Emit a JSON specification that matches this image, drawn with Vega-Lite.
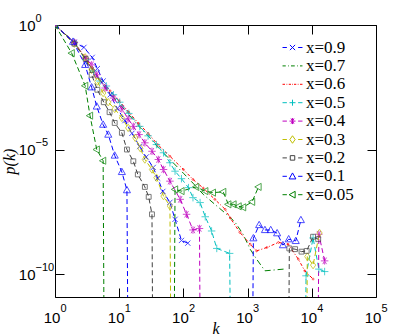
{
  "$schema": "https://vega.github.io/schema/vega-lite/v6.json",
  "width": 321,
  "height": 272,
  "autosize": {"type": "none"},
  "padding": {"left": 55, "top": 25, "right": 39, "bottom": 39},
  "background": "white",
  "config": {
    "view": {"stroke": "black", "strokeWidth": 1},
    "axis": {"grid": false, "domain": false, "tickColor": "black", "tickWidth": 1, "tickSize": 9, "zindex": 1, "labelColor": "black", "labelFont": "Liberation Sans", "labelFontSize": 15, "titleColor": "black"}
  },
  "data": {
    "values": [
      {"s": "x=0.9", "k": 1, "p": 1}, {"s": "x=0.9", "k": 2, "p": 0.2}, {"s": "x=0.9", "k": 2.82, "p": 0.126}, {"s": "x=0.9", "k": 3.8, "p": 0.0501}, {"s": "x=0.9", "k": 4.57, "p": 0.0178}, {"s": "x=0.9", "k": 5.62, "p": 5.62e-3}, {"s": "x=0.9", "k": 7.24, "p": 1.58e-3}, {"s": "x=0.9", "k": 9.33, "p": 4.47e-4}, {"s": "x=0.9", "k": 12.3, "p": 1.45e-4}, {"s": "x=0.9", "k": 15.8, "p": 4.47e-5}, {"s": "x=0.9", "k": 20.9, "p": 1.32e-5}, {"s": "x=0.9", "k": 26.3, "p": 5.01e-6}, {"s": "x=0.9", "k": 33.9, "p": 1.91e-6}, {"s": "x=0.9", "k": 39.8, "p": 7.08e-7}, {"s": "x=0.9", "k": 47.9, "p": 2.09e-7}, {"s": "x=0.9", "k": 61.7, "p": 7.59e-8}, {"s": "x=0.9", "k": 74.1, "p": 1.58e-8}, {"s": "x=0.9", "k": 93.3, "p": 2.24e-9}, {"s": "x=0.9", "k": 117, "p": 1.74e-9},

      {"s": "x=0.7", "k": 1, "p": 1}, {"s": "x=0.7", "k": 2, "p": 0.2}, {"s": "x=0.7", "k": 3.02, "p": 0.0398}, {"s": "x=0.7", "k": 3.98, "p": 0.0141}, {"s": "x=0.7", "k": 5.01, "p": 5.62e-3}, {"s": "x=0.7", "k": 7.24, "p": 1.78e-3}, {"s": "x=0.7", "k": 10, "p": 7.08e-4}, {"s": "x=0.7", "k": 14.1, "p": 2.51e-4}, {"s": "x=0.7", "k": 20, "p": 8.91e-5}, {"s": "x=0.7", "k": 28.2, "p": 3.55e-5}, {"s": "x=0.7", "k": 39.8, "p": 1.26e-5}, {"s": "x=0.7", "k": 61.7, "p": 3.98e-6}, {"s": "x=0.7", "k": 100, "p": 1.12e-6}, {"s": "x=0.7", "k": 141, "p": 4.47e-7}, {"s": "x=0.7", "k": 204, "p": 1.58e-7}, {"s": "x=0.7", "k": 309, "p": 6.31e-8}, {"s": "x=0.7", "k": 447, "p": 2.82e-8}, {"s": "x=0.7", "k": 631, "p": 1.26e-8}, {"s": "x=0.7", "k": 851, "p": 3.98e-9}, {"s": "x=0.7", "k": 1096, "p": 1e-9}, {"s": "x=0.7", "k": 1380, "p": 3.98e-10}, {"s": "x=0.7", "k": 1862, "p": 1.35e-10}, {"s": "x=0.7", "k": 3631, "p": 1.58e-10},

      {"s": "x=0.6", "k": 1, "p": 1}, {"s": "x=0.6", "k": 2, "p": 0.2}, {"s": "x=0.6", "k": 3.02, "p": 0.0447}, {"s": "x=0.6", "k": 3.98, "p": 0.0158}, {"s": "x=0.6", "k": 5.01, "p": 6.31e-3}, {"s": "x=0.6", "k": 7.24, "p": 2.24e-3}, {"s": "x=0.6", "k": 10, "p": 8.91e-4}, {"s": "x=0.6", "k": 14.1, "p": 3.16e-4}, {"s": "x=0.6", "k": 20, "p": 1.12e-4}, {"s": "x=0.6", "k": 28.2, "p": 4.47e-5}, {"s": "x=0.6", "k": 39.8, "p": 1.58e-5}, {"s": "x=0.6", "k": 61.7, "p": 5.37e-6}, {"s": "x=0.6", "k": 100, "p": 1.58e-6}, {"s": "x=0.6", "k": 141, "p": 6.31e-7}, {"s": "x=0.6", "k": 204, "p": 2.82e-7}, {"s": "x=0.6", "k": 309, "p": 1e-7}, {"s": "x=0.6", "k": 447, "p": 3.98e-8}, {"s": "x=0.6", "k": 537, "p": 1.78e-8}, {"s": "x=0.6", "k": 759, "p": 4.68e-9}, {"s": "x=0.6", "k": 1096, "p": 1.58e-9}, {"s": "x=0.6", "k": 1380, "p": 8.51e-10}, {"s": "x=0.6", "k": 1995, "p": 1.17e-9}, {"s": "x=0.6", "k": 3020, "p": 1.86e-9}, {"s": "x=0.6", "k": 4266, "p": 1.58e-9}, {"s": "x=0.6", "k": 6166, "p": 3.98e-10}, {"s": "x=0.6", "k": 7762, "p": 1.35e-10}, {"s": "x=0.6", "k": 10471, "p": 6.31e-11},

      {"s": "x=0.5", "k": 1, "p": 1}, {"s": "x=0.5", "k": 2, "p": 0.2}, {"s": "x=0.5", "k": 3.02, "p": 0.0398}, {"s": "x=0.5", "k": 3.98, "p": 0.0141}, {"s": "x=0.5", "k": 5.01, "p": 5.62e-3}, {"s": "x=0.5", "k": 6.31, "p": 3.55e-3}, {"s": "x=0.5", "k": 8.13, "p": 1.58e-3}, {"s": "x=0.5", "k": 10.2, "p": 7.94e-4}, {"s": "x=0.5", "k": 14.1, "p": 2.82e-4}, {"s": "x=0.5", "k": 20.9, "p": 8.51e-5}, {"s": "x=0.5", "k": 28.2, "p": 3.55e-5}, {"s": "x=0.5", "k": 38, "p": 1.58e-5}, {"s": "x=0.5", "k": 49, "p": 7.41e-6}, {"s": "x=0.5", "k": 61.7, "p": 2.95e-6}, {"s": "x=0.5", "k": 74.1, "p": 1.35e-6}, {"s": "x=0.5", "k": 93.3, "p": 6.76e-7}, {"s": "x=0.5", "k": 120, "p": 2.95e-7}, {"s": "x=0.5", "k": 141, "p": 1.17e-7}, {"s": "x=0.5", "k": 182, "p": 7.41e-8}, {"s": "x=0.5", "k": 219, "p": 2.0e-8}, {"s": "x=0.5", "k": 275, "p": 5.37e-9}, {"s": "x=0.5", "k": 331, "p": 1.07e-9}, {"s": "x=0.5", "k": 525, "p": 6.76e-10}, {"s": "x=0.5", "k": 631, "p": 1e-30}, {"s": "x=0.5", "k": 7079, "p": 1e-30}, {"s": "x=0.5", "k": 8128, "p": 8.51e-11}, {"s": "x=0.5", "k": 10471, "p": 2.82e-9}, {"s": "x=0.5", "k": 12882, "p": 1.58e-10}, {"s": "x=0.5", "k": 15849, "p": 1.26e-10},

      {"s": "x=0.4", "k": 1, "p": 1}, {"s": "x=0.4", "k": 2, "p": 0.2}, {"s": "x=0.4", "k": 3.02, "p": 0.0447}, {"s": "x=0.4", "k": 3.72, "p": 0.0251}, {"s": "x=0.4", "k": 4.47, "p": 0.01}, {"s": "x=0.4", "k": 6.03, "p": 2.95e-3}, {"s": "x=0.4", "k": 8.13, "p": 1.17e-3}, {"s": "x=0.4", "k": 11, "p": 4.27e-4}, {"s": "x=0.4", "k": 13.8, "p": 1.7e-4}, {"s": "x=0.4", "k": 16.6, "p": 8.51e-5}, {"s": "x=0.4", "k": 20.4, "p": 3.98e-5}, {"s": "x=0.4", "k": 25.1, "p": 1.86e-5}, {"s": "x=0.4", "k": 32.4, "p": 8.51e-6}, {"s": "x=0.4", "k": 40.7, "p": 3.98e-6}, {"s": "x=0.4", "k": 49, "p": 1.58e-6}, {"s": "x=0.4", "k": 61.7, "p": 5.37e-7}, {"s": "x=0.4", "k": 89.1, "p": 1e-7}, {"s": "x=0.4", "k": 112, "p": 2.51e-8}, {"s": "x=0.4", "k": 141, "p": 5.89e-9}, {"s": "x=0.4", "k": 178, "p": 6.76e-9}, {"s": "x=0.4", "k": 200, "p": 1e-30}, {"s": "x=0.4", "k": 11220, "p": 1e-30}, {"s": "x=0.4", "k": 12882, "p": 3.98e-9}, {"s": "x=0.4", "k": 15849, "p": 3.39e-10},

      {"s": "x=0.3", "k": 1, "p": 1}, {"s": "x=0.3", "k": 2, "p": 0.178}, {"s": "x=0.3", "k": 2.95, "p": 0.0501}, {"s": "x=0.3", "k": 3.72, "p": 0.0158}, {"s": "x=0.3", "k": 4.57, "p": 5.37e-3}, {"s": "x=0.3", "k": 5.62, "p": 1.86e-3}, {"s": "x=0.3", "k": 6.76, "p": 7.94e-4}, {"s": "x=0.3", "k": 8.51, "p": 4.27e-4}, {"s": "x=0.3", "k": 11, "p": 1.86e-4}, {"s": "x=0.3", "k": 13.8, "p": 7.41e-5}, {"s": "x=0.3", "k": 17.8, "p": 2.95e-5}, {"s": "x=0.3", "k": 21.4, "p": 1.12e-5}, {"s": "x=0.3", "k": 25.1, "p": 3.98e-6}, {"s": "x=0.3", "k": 32.4, "p": 1.58e-6}, {"s": "x=0.3", "k": 38, "p": 7.41e-7}, {"s": "x=0.3", "k": 49, "p": 1.35e-7}, {"s": "x=0.3", "k": 61.7, "p": 5.37e-8}, {"s": "x=0.3", "k": 70.8, "p": 1e-30}, {"s": "x=0.3", "k": 7586, "p": 1e-30}, {"s": "x=0.3", "k": 8511, "p": 5.01e-10}, {"s": "x=0.3", "k": 10471, "p": 2.29e-10}, {"s": "x=0.3", "k": 13183, "p": 4.47e-9},

      {"s": "x=0.2", "k": 1, "p": 1}, {"s": "x=0.2", "k": 2, "p": 0.178}, {"s": "x=0.2", "k": 3.02, "p": 0.0427}, {"s": "x=0.2", "k": 3.72, "p": 0.01}, {"s": "x=0.2", "k": 4.57, "p": 2.51e-3}, {"s": "x=0.2", "k": 5.75, "p": 7.94e-4}, {"s": "x=0.2", "k": 7.08, "p": 3.16e-4}, {"s": "x=0.2", "k": 8.51, "p": 1.17e-4}, {"s": "x=0.2", "k": 11, "p": 4.68e-5}, {"s": "x=0.2", "k": 13.2, "p": 1e-5}, {"s": "x=0.2", "k": 16.6, "p": 3.39e-6}, {"s": "x=0.2", "k": 19.5, "p": 1e-6}, {"s": "x=0.2", "k": 25.1, "p": 3.16e-7}, {"s": "x=0.2", "k": 28.8, "p": 1.26e-7}, {"s": "x=0.2", "k": 32.4, "p": 2.51e-8}, {"s": "x=0.2", "k": 36.3, "p": 1e-30}, {"s": "x=0.2", "k": 3981, "p": 1e-30}, {"s": "x=0.2", "k": 4467, "p": 1.07e-9}, {"s": "x=0.2", "k": 5495, "p": 1e-9}, {"s": "x=0.2", "k": 6918, "p": 7.94e-10}, {"s": "x=0.2", "k": 8318, "p": 8.51e-10}, {"s": "x=0.2", "k": 10471, "p": 3.16e-9}, {"s": "x=0.2", "k": 12589, "p": 2.51e-9},

      {"s": "x=0.1", "k": 1, "p": 1}, {"s": "x=0.1", "k": 1.91, "p": 0.214}, {"s": "x=0.1", "k": 2.95, "p": 0.0251}, {"s": "x=0.1", "k": 3.72, "p": 3.16e-3}, {"s": "x=0.1", "k": 4.47, "p": 5.37e-4}, {"s": "x=0.1", "k": 5.62, "p": 1e-4}, {"s": "x=0.1", "k": 6.76, "p": 3.98e-5}, {"s": "x=0.1", "k": 8.51, "p": 5.75e-6}, {"s": "x=0.1", "k": 11, "p": 1.26e-6}, {"s": "x=0.1", "k": 13.2, "p": 2.34e-7}, {"s": "x=0.1", "k": 15.1, "p": 1e-30}, {"s": "x=0.1", "k": 1072, "p": 1e-30}, {"s": "x=0.1", "k": 1230, "p": 2.75e-9}, {"s": "x=0.1", "k": 1514, "p": 9.33e-9}, {"s": "x=0.1", "k": 1862, "p": 5.89e-9}, {"s": "x=0.1", "k": 2291, "p": 5.89e-9}, {"s": "x=0.1", "k": 2884, "p": 4.37e-9}, {"s": "x=0.1", "k": 3548, "p": 1.45e-9}, {"s": "x=0.1", "k": 4365, "p": 2.51e-9}, {"s": "x=0.1", "k": 5623, "p": 2.14e-9}, {"s": "x=0.1", "k": 6761, "p": 1.48e-8},

      {"s": "x=0.05", "k": 1, "p": 1}, {"s": "x=0.05", "k": 1.82, "p": 0.0741}, {"s": "x=0.05", "k": 2.95, "p": 3.63e-3}, {"s": "x=0.05", "k": 3.51, "p": 2.29e-4}, {"s": "x=0.05", "k": 4.47, "p": 1e-5}, {"s": "x=0.05", "k": 5.62, "p": 3.55e-6}, {"s": "x=0.05", "k": 6.31, "p": 1e-30}, {"s": "x=0.05", "k": 66.1, "p": 1e-30}, {"s": "x=0.05", "k": 74.1, "p": 2.51e-7}, {"s": "x=0.05", "k": 93.3, "p": 2.14e-7}, {"s": "x=0.05", "k": 158, "p": 3.16e-7}, {"s": "x=0.05", "k": 219, "p": 2.14e-7}, {"s": "x=0.05", "k": 288, "p": 1.86e-7}, {"s": "x=0.05", "k": 417, "p": 2.0e-7}, {"s": "x=0.05", "k": 501, "p": 6.31e-8}, {"s": "x=0.05", "k": 603, "p": 6.31e-8}, {"s": "x=0.05", "k": 724, "p": 5.25e-8}, {"s": "x=0.05", "k": 851, "p": 4.79e-8}, {"s": "x=0.05", "k": 1175, "p": 7.94e-8}, {"s": "x=0.05", "k": 1479, "p": 3.16e-7}
    ]
  },
  "layer": [
    {
      "mark": {"type": "line", "strokeWidth": 1, "clip": true},
      "encoding": {
        "x": {"field": "k", "type": "quantitative", "scale": {"type": "log", "domain": [1, 100000], "nice": false},
          "axis": {"orient": "bottom", "offset": -9, "values": [1, 10, 100, 1000, 10000, 100000], "labelExpr": "'10'", "labelBaseline": "top", "labelPadding": 13, "labelOffset": -3.5, "labelFlush": false, "title": "k", "titleFont": "Liberation Serif", "titleFontStyle": "italic", "titleFontWeight": "normal", "titleFontSize": 16, "titlePadding": -5}},
        "y": {"field": "p", "type": "quantitative", "scale": {"type": "log", "domain": [1.2e-11, 1], "nice": false},
          "axis": {"orient": "left", "offset": -9, "values": [1, 1e-5, 1e-10], "labelExpr": "'10'", "labelAlign": "right", "labelBaseline": "middle", "labelPadding": 20, "labelFlush": false, "title": "p(k)", "titleFont": "Liberation Serif", "titleFontStyle": "italic", "titleFontWeight": "normal", "titleFontSize": 16, "titlePadding": 1}},
        "color": {"field": "s", "type": "nominal",
          "scale": {"domain": ["x=0.9", "x=0.7", "x=0.6", "x=0.5", "x=0.4", "x=0.3", "x=0.2", "x=0.1", "x=0.05"], "range": ["#0000ff", "#008000", "#ff0000", "#00bfbf", "#bf00bf", "#bfbf00", "#404040", "#0000ff", "#008000"]},
          "legend": null},
        "strokeDash": {"field": "s", "type": "nominal",
          "scale": {"domain": ["x=0.9", "x=0.7", "x=0.6", "x=0.5", "x=0.4", "x=0.3", "x=0.2", "x=0.1", "x=0.05"], "range": [[5, 3], [6, 3, 1, 3], [3, 2, 1, 2], [5, 3], [5, 3], [5, 3], [5, 3], [5, 3], [5, 3]]},
          "legend": null}
      }
    },
    {
      "transform": [{"filter": "datum.p > 1e-20"}],
      "mark": {"type": "point", "filled": false, "strokeWidth": 1, "size": 56, "clip": true},
      "encoding": {
        "x": {"field": "k", "type": "quantitative", "axis": {"orient": "top", "offset": -9, "values": [1, 10, 100, 1000, 10000, 100000], "labels": false, "title": null}},
        "y": {"field": "p", "type": "quantitative", "axis": {"orient": "right", "offset": -9, "values": [1, 1e-5, 1e-10], "labels": false, "title": null}},
        "color": {"field": "s", "type": "nominal",
          "scale": {"domain": ["x=0.9", "x=0.7", "x=0.6", "x=0.5", "x=0.4", "x=0.3", "x=0.2", "x=0.1", "x=0.05"], "range": ["#0000ff", "#008000", "#ff0000", "#00bfbf", "#bf00bf", "#bfbf00", "#404040", "#0000ff", "#008000"]},
          "legend": null},
        "shape": {"field": "s", "type": "nominal",
          "scale": {"domain": ["x=0.9", "x=0.7", "x=0.6", "x=0.5", "x=0.4", "x=0.3", "x=0.2", "x=0.1", "x=0.05"], "range": ["M-0.7,-0.7L0.7,0.7M-0.7,0.7L0.7,-0.7", "M0,0", "M-0.25,0A0.25,0.25 0 1,0 0.25,0A0.25,0.25 0 1,0 -0.25,0Z", "M-1,0L1,0M0,-1L0,1", "M-1,0L1,0M-0.5,-0.87L0.5,0.87M-0.5,0.87L0.5,-0.87M0,-1L0,1", "M0,-1L0.7,0L0,1L-0.7,0Z", "M-0.65,-0.65L0.65,-0.65L0.65,0.65L-0.65,0.65Z", "M0,-1L0.95,0.7L-0.95,0.7Z", "M-1,0L0.7,-0.95L0.7,0.95Z"]},
          "legend": null}
      }
    },
    {
      "mark": {"type": "point", "filled": false, "strokeWidth": 1, "opacity": 0, "clip": true},
      "encoding": {
        "x": {"field": "k", "type": "quantitative", "axis": {"orient": "bottom", "values": [1, 10, 100, 1000, 10000, 100000], "ticks": false, "labelExpr": "['0','1','2','3','4','5'][round(log(datum.value)/LN10)]", "labelFontSize": 11, "labelAlign": "left", "labelBaseline": "top", "labelPadding": 5, "labelOffset": 5, "labelFlush": false, "title": null}},
        "y": {"field": "p", "type": "quantitative", "axis": {"orient": "left", "values": [1, 1e-5, 1e-10], "ticks": false, "labelExpr": "datum.value > 0.1 ? '0' : datum.value > 1e-7 ? '−5' : '−10'", "labelFontSize": 11, "labelAlign": "left", "labelBaseline": "middle", "labelPadding": 20, "labelOffset": -7, "labelFlush": false, "title": null}},
        "color": {"field": "s", "type": "nominal",
          "scale": {"domain": ["x=0.9", "x=0.7", "x=0.6", "x=0.5", "x=0.4", "x=0.3", "x=0.2", "x=0.1", "x=0.05"], "range": ["#0000ff", "#008000", "#ff0000", "#00bfbf", "#bf00bf", "#bfbf00", "#404040", "#0000ff", "#008000"]},
          "legend": {"title": null, "orient": "none", "legendX": 229, "legendY": 14, "padding": 0, "symbolSize": 225, "symbolStrokeWidth": 1, "symbolOpacity": 1, "labelFont": "Liberation Serif", "labelFontSize": 17, "labelOffset": 5, "rowPadding": 0.4, "labelColor": "black"}},
        "shape": {"field": "s", "type": "nominal",
          "scale": {"domain": ["x=0.9", "x=0.7", "x=0.6", "x=0.5", "x=0.4", "x=0.3", "x=0.2", "x=0.1", "x=0.05"], "range": ["M-1.33,0L-0.75,0M0.75,0L1.33,0M-0.35,-0.35L0.35,0.35M-0.35,0.35L0.35,-0.35", "M-1.33,0L-0.9,0M-0.6,0L-0.5,0M-0.2,0L0.3,0M0.6,0L0.7,0M1,0L1.33,0", "M-1.33,0L-1,0M-0.8,0L-0.7,0M-0.5,0L-0.2,0M-0.05,0L0.05,0M0.2,0L0.5,0M0.7,0L0.8,0M1,0L1.33,0", "M-1.33,0L-0.75,0M0.75,0L1.33,0M-0.4,0L0.4,0M0,-0.4L0,0.4", "M-1.33,0L-0.75,0M0.75,0L1.33,0M-0.4,0L0.4,0M-0.2,-0.35L0.2,0.35M-0.2,0.35L0.2,-0.35M0,-0.4L0,0.4", "M-1.33,0L-0.75,0M0.75,0L1.33,0M0,-0.5L0.35,0L0,0.5L-0.35,0Z", "M-1.33,0L-0.75,0M0.75,0L1.33,0M-0.3,-0.3L0.3,-0.3L0.3,0.3L-0.3,0.3Z", "M-1.33,0L-0.75,0M0.75,0L1.33,0M0,-0.45L0.45,0.35L-0.45,0.35Z", "M-1.33,0L-0.75,0M0.75,0L1.33,0M-0.45,0L0.35,-0.45L0.35,0.45Z"]},
          "legend": {"title": null, "orient": "none", "legendX": 229, "legendY": 14, "padding": 0, "symbolSize": 225, "symbolStrokeWidth": 1, "symbolOpacity": 1, "labelFont": "Liberation Serif", "labelFontSize": 17, "labelOffset": 5, "rowPadding": 0.4, "labelColor": "black"}}
      }
    }
  ],
  "resolve": {"axis": {"x": "independent", "y": "independent"}, "scale": {"shape": "independent", "color": "independent"}}
}
